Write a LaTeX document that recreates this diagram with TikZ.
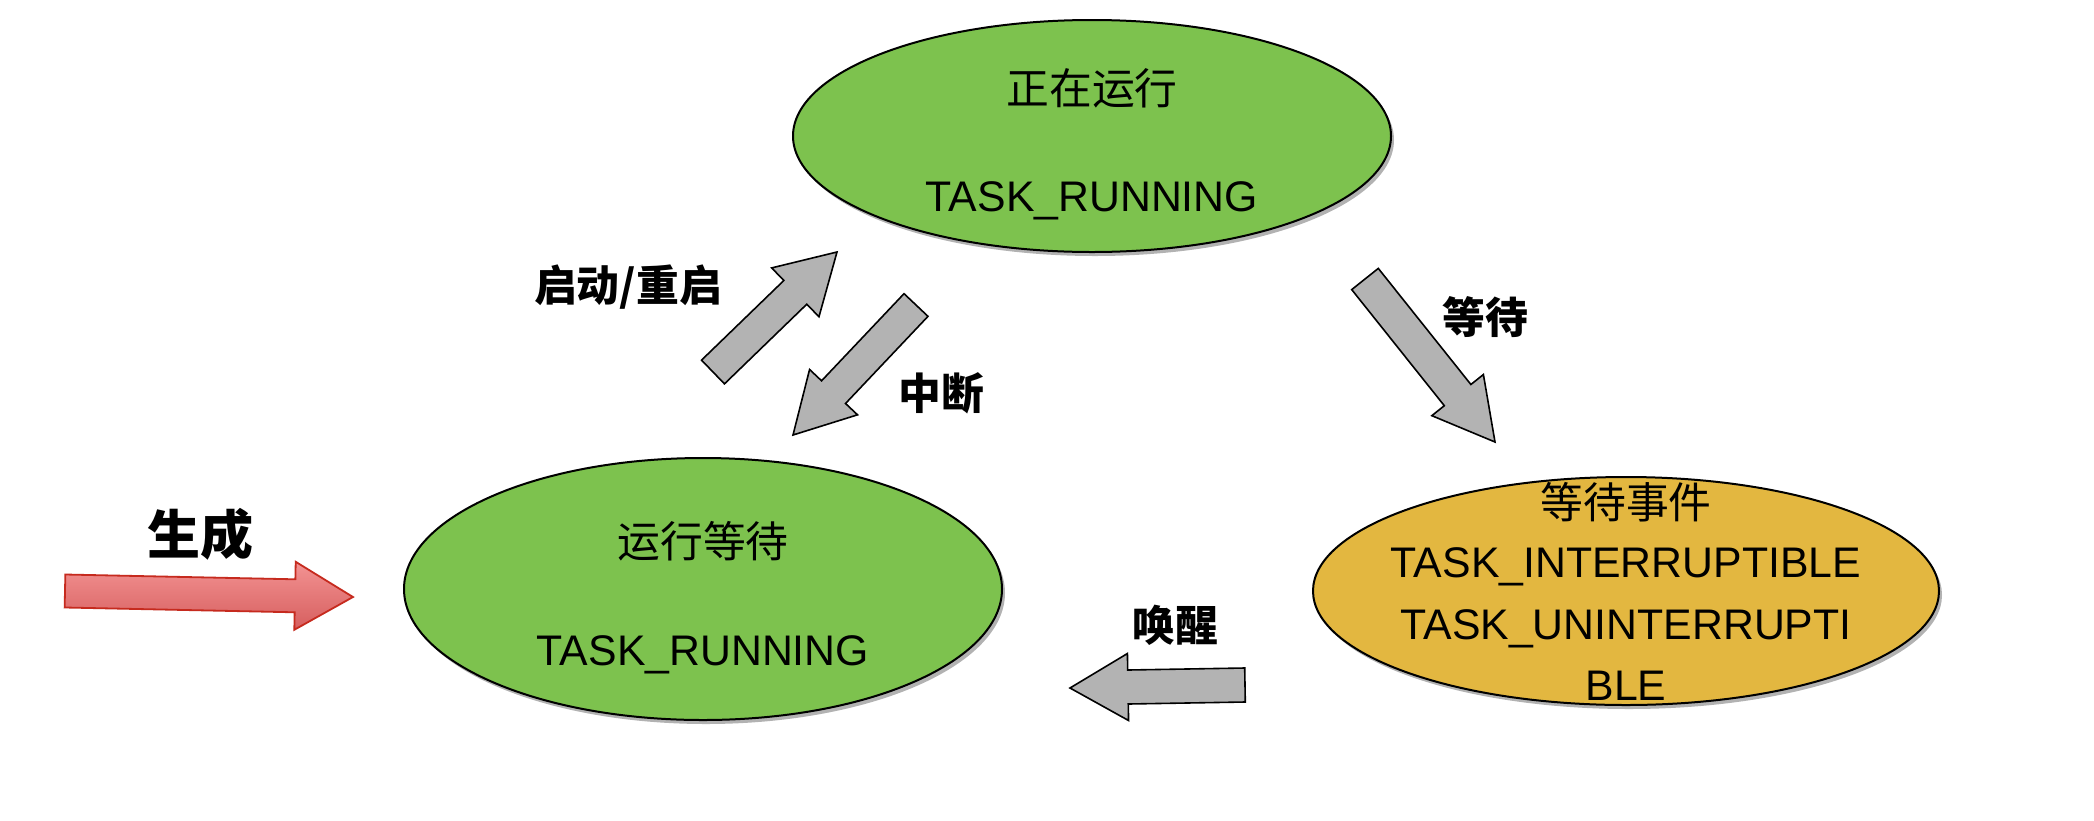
\documentclass[tikz,border=0pt]{standalone}
\usepackage{fontspec}
\setmainfont{Liberation Sans}
\newfontfamily\cjk{Noto Sans CJK SC}
\usetikzlibrary{calc,shapes.geometric,shadows}
\definecolor{stgreen}{HTML}{7DC24E}
\definecolor{stgold}{HTML}{E3B740}
\definecolor{argray}{HTML}{B3B3B3}
\definecolor{arred}{HTML}{C62A1E}
\definecolor{redtop}{HTML}{F39393}
\definecolor{redbot}{HTML}{D65E5E}
\newcommand\blockarr[6]{%
  \coordinate (#2-n) at ($(#3)!#6!(#2)$);
  \draw[#1] ($(#2)!#4!90:(#3)$) -- ($(#2-n)!#4!-90:(#2)$) -- ($(#2-n)!#5!-90:(#2)$) -- (#3)
     -- ($(#2-n)!#5!90:(#2)$) -- ($(#2-n)!#4!90:(#2)$) -- ($(#2)!#4!-90:(#3)$) -- cycle;
}
\begin{document}
\begin{tikzpicture}[x=0.5pt,y=-0.5pt,
  state/.style={ellipse, draw=black, line width=1pt, inner sep=0,
    drop shadow={shadow xshift=1.5pt, shadow yshift=-2pt, fill=black, opacity=0.3}},
  latintxt/.style={font=\fontsize{21.4}{26}\selectfont, inner sep=0, anchor=base},
  cjktxt/.style={font=\cjk\fontsize{21.4}{26}\selectfont, inner sep=0, anchor=base},
  lbl/.style={font=\cjk\bfseries\fontsize{21.4}{26}\selectfont, inner sep=0},
  grayarr/.style={fill=argray, draw=black, line width=0.8pt, line join=miter},
  redarr/.style={top color=redtop, bottom color=redbot, draw=arred, line width=0.9pt, line join=miter}]
\useasboundingbox[fill=white] (0,0) rectangle (2094,820);
% states
\node[state, fill=stgreen, minimum width=299pt, minimum height=116pt] (run) at (1092,136) {};
\node[state, fill=stgreen, minimum width=299pt, minimum height=131pt] (ready) at (703,589) {};
\node[state, fill=stgold, minimum width=313pt, minimum height=114pt] (wait) at (1626,591) {};
% state texts
\node[cjktxt] (runA) at (1092,104) {正在运行};
\node[latintxt] (runB) at (1092,211) {TASK\_RUNNING};
\node[cjktxt] (readyA) at (703,557) {运行等待};
\node[latintxt] (readyB) at (703,665) {TASK\_RUNNING};
\node[cjktxt] (waitA) at (1626,518) {等待事件};
\node[latintxt] (waitB) at (1626,577) {TASK\_INTERRUPTIBLE};
\node[latintxt] (waitC) at (1626,639) {TASK\_UNINTERRUPTI};
\node[latintxt] (waitD) at (1626,700) {BLE};
% arrow ends
\coordinate (a1t) at (713,372); \coordinate (a1h) at (837,252);
\coordinate (a2t) at (916,305); \coordinate (a2h) at (793,435);
\coordinate (a3t) at (1365,279); \coordinate (a3h) at (1495,442);
\coordinate (a4t) at (1245,685); \coordinate (a4h) at (1070,688);
\coordinate (a5t) at (65,591); \coordinate (a5h) at (353,597);
\blockarr{grayarr}{a1t}{a1h}{8.25pt}{17pt}{29pt}
\blockarr{grayarr}{a2t}{a2h}{8.25pt}{16.5pt}{29.5pt}
\blockarr{grayarr}{a3t}{a3h}{8.5pt}{16.5pt}{30pt}
\blockarr{grayarr}{a4t}{a4h}{8.5pt}{16.75pt}{29pt}
\blockarr{redarr}{a5t}{a5h}{8.25pt}{17pt}{29pt}
% labels
\node[lbl] (l1) at (628,287) {启动/重启};
\node[lbl] (l2) at (941,393) {中断};
\node[lbl] (l3) at (1485,317) {等待};
\node[lbl] (l4) at (1175,625) {唤醒};
\node[lbl, font=\cjk\bfseries\fontsize{26.5}{30}\selectfont] (l5) at (200,534) {生成};
\end{tikzpicture}
\end{document}
